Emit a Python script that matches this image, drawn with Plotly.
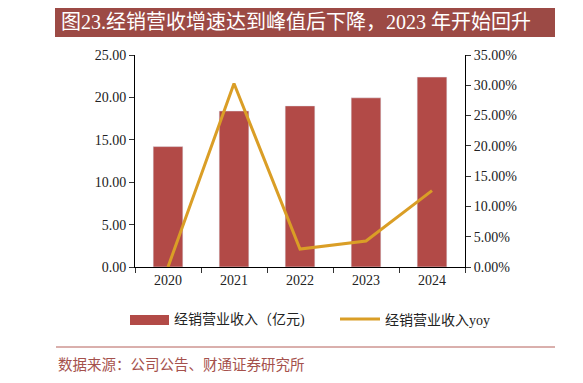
import plotly.graph_objects as go

years = ["2020", "2021", "2022", "2023", "2024"]
revenue = [14.2, 18.4, 19.0, 19.95, 22.4]          # 经销营业收入（亿元）
yoy = [0.0, 0.303, 0.0296, 0.043, 0.126]            # 经销营业收入yoy

title_text = "图23.经销营收增速达到峰值后下降，2023 年开始回升"
source_text = "数据来源：公司公告、财通证券研究所"
bar_name = "经销营业收入（亿元)"
line_name = "经销营业收入yoy"

BAR_COLOR = "#B24A47"
LINE_COLOR = "#DA9E26"
TITLE_BG = "#9C4A45"
SERIF = "Liberation Serif, DejaVu Serif, serif"
CJK = "Liberation Serif, Noto Sans CJK SC, serif"

OFF = 8  # browser default body margin
W, H = 583 - OFF, 383 - OFF
L, R, T, B = 135, 465, 55, 267   # plot area in window pixels

def px(x):
    return (x - L) / (R - L)

def py(y):
    return (B - y) / (B - T)

fig = go.Figure()
fig.add_trace(go.Bar(x=years, y=revenue, name=bar_name, marker_color=BAR_COLOR,
                     width=0.45, yaxis="y", showlegend=False))
fig.add_trace(go.Scatter(x=years, y=yoy, name=line_name, mode="lines",
                         line=dict(color=LINE_COLOR, width=3), yaxis="y2", showlegend=False))

fig.update_layout(
    width=W, height=H,
    margin=dict(l=L - OFF, r=583 - R, t=T - OFF, b=383 - B),
    paper_bgcolor="white", plot_bgcolor="white",
    showlegend=False,
    xaxis=dict(type="category", showline=True, linecolor="black", linewidth=1,
               ticks="outside", tickson="boundaries", ticklen=5, tickcolor="#333",
               tickfont=dict(family=SERIF, size=14, color="#222"), showgrid=False,
               zeroline=False),
    yaxis=dict(range=[0, 25], dtick=5, tickformat=".2f", showline=True, linecolor="black",
               ticks="outside", ticklen=5, tickcolor="#333", showgrid=False, zeroline=False,
               tickfont=dict(family=SERIF, size=14, color="#222")),
    yaxis2=dict(range=[0, 0.35], dtick=0.05, tickformat=".2%", overlaying="y", side="right",
                showline=True, linecolor="black", ticks="outside", ticklen=5, tickcolor="#333",
                showgrid=False, zeroline=False,
                tickfont=dict(family=SERIF, size=14, color="#222")),
)

shapes = [
    dict(type="rect", xref="paper", yref="paper", x0=px(55), x1=px(555), y0=py(37), y1=py(7),
         fillcolor=TITLE_BG, line=dict(width=0), layer="above"),
    dict(type="rect", xref="paper", yref="paper", x0=px(579), x1=px(600), y0=py(37), y1=py(7),
         fillcolor=TITLE_BG, line=dict(width=0), layer="above"),
    dict(type="line", xref="paper", yref="paper", x0=px(56), x1=px(555), y0=py(347), y1=py(347),
         line=dict(color="#B5605A", width=1)),
    dict(type="line", xref="paper", yref="paper", x0=px(578), x1=px(600), y0=py(347), y1=py(347),
         line=dict(color="#B5605A", width=1)),
    # legend swatches
    dict(type="rect", xref="paper", yref="paper", x0=px(130), x1=px(169), y0=py(325), y1=py(315),
         fillcolor=BAR_COLOR, line=dict(width=0)),
    dict(type="line", xref="paper", yref="paper", x0=px(340), x1=px(380), y0=py(319), y1=py(319),
         line=dict(color=LINE_COLOR, width=3)),
]
fig.update_layout(shapes=shapes)

fig.add_annotation(xref="paper", yref="paper", x=px(172), y=py(320), xanchor="left", yanchor="middle",
                   text=bar_name, showarrow=False,
                   font=dict(family=CJK, size=14, color="#222"))
fig.add_annotation(xref="paper", yref="paper", x=px(383), y=py(320), xanchor="left", yanchor="middle",
                   text=line_name, showarrow=False,
                   font=dict(family=CJK, size=14, color="#222"))

fig.add_annotation(xref="paper", yref="paper", x=px(59), y=py(22), xanchor="left", yanchor="middle",
                   text=title_text, showarrow=False,
                   font=dict(family="Liberation Serif, Noto Sans CJK SC, serif", size=20, color="white"))
fig.add_annotation(xref="paper", yref="paper", x=px(56), y=py(363), xanchor="left", yanchor="middle",
                   text=source_text, showarrow=False,
                   font=dict(family="Noto Sans CJK SC, serif", size=14.5, color="#A5514C"))

fig.write_html("out.html")
